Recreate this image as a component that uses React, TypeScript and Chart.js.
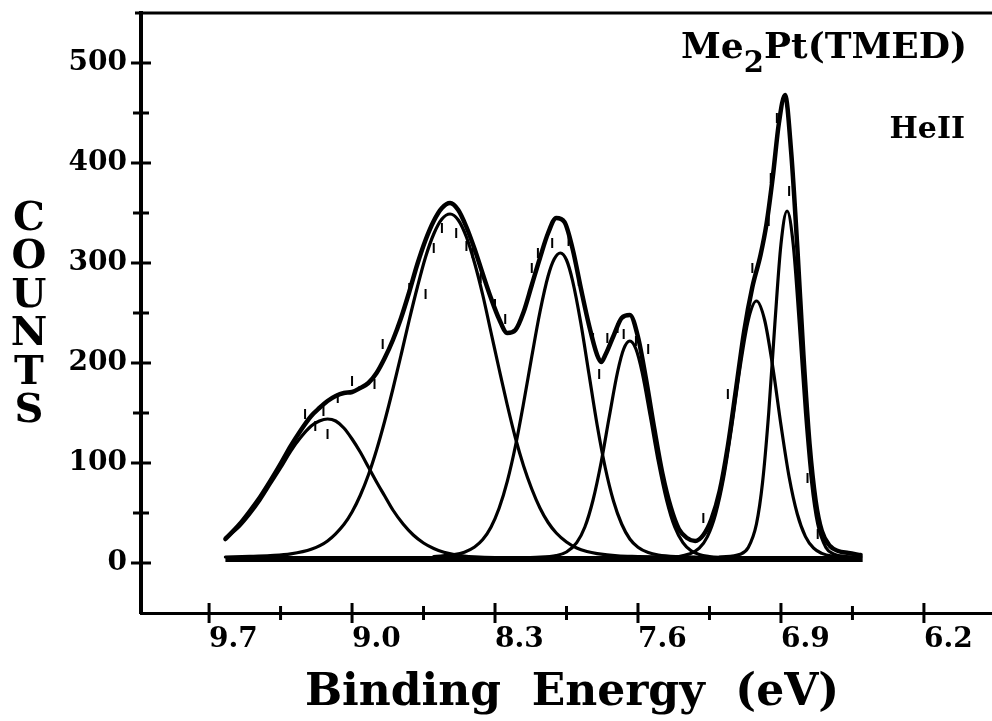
import React, { useEffect, useRef } from 'react';
import { Chart, registerables } from 'chart.js';

Chart.register(...registerables);

// ---- Axis ticks ----
const xTickValues = [9.7, 9.35, 9.0, 8.65, 8.3, 7.95, 7.6, 7.25, 6.9, 6.55, 6.2];
const xTickLabels = ['9.7', '', '9.0', '', '8.3', '', '7.6', '', '6.9', '', '6.2'];
const yTickValues = [0, 50, 100, 150, 200, 250, 300, 350, 400, 450, 500];
const yTickLabels = ['0', '', '100', '', '200', '', '300', '', '400', '', '500'];

// ---- Baseline ----
const baseX = [9.62, 6.5];
const baseY = [4, 4];

// ---- Fitted components ----
const c1X = [9.62, 9.55, 9.5, 9.45, 9.4, 9.35, 9.3, 9.25, 9.2, 9.16, 9.12, 9.08, 9.04, 9.0, 8.96, 8.92, 8.88, 8.84, 8.8, 8.75, 8.7, 8.65, 8.6, 8.55, 8.5, 8.45, 8.4, 8.3, 8.2, 8.0, 7.8, 7.6];
const c1Y = [25, 37, 49, 63, 79, 95, 112, 126, 137, 142, 144, 142, 135, 124, 111, 96, 81, 67, 53, 39, 28, 20, 14.5, 10.8, 8.5, 7, 6.2, 5.3, 5, 4.7, 4.5, 4.3];

const c2X = [9.62, 9.5, 9.4, 9.3, 9.2, 9.12, 9.04, 9.0, 8.96, 8.92, 8.88, 8.84, 8.8, 8.76, 8.72, 8.68, 8.64, 8.6, 8.56, 8.52, 8.48, 8.44, 8.4, 8.36, 8.32, 8.28, 8.24, 8.2, 8.16, 8.12, 8.08, 8.04, 8.0, 7.95, 7.9, 7.85, 7.8, 7.7, 7.6, 7.5, 7.3, 7.0];
const c2Y = [6, 6.6, 7.4, 9.1, 13.7, 22, 38.5, 51, 67.5, 88, 113, 142, 174, 208, 243, 276, 306, 329, 344, 349, 343, 326, 300, 268, 231, 194, 158, 125, 97, 74, 55, 40.5, 30, 21, 15, 11.5, 9.4, 7.1, 6.5, 6.1, 5.5, 5];

const c3X = [8.6, 8.5, 8.45, 8.4, 8.36, 8.32, 8.28, 8.24, 8.2, 8.16, 8.12, 8.08, 8.04, 8.01, 7.98, 7.95, 7.92, 7.88, 7.84, 7.8, 7.76, 7.72, 7.68, 7.64, 7.6, 7.55, 7.5, 7.4, 7.3, 7.1];
const c3Y = [6.4, 8.3, 10.8, 16, 23.4, 35.7, 54.7, 81.6, 117, 160, 206.5, 251, 287, 304, 310, 303, 282, 240, 189, 138, 95, 62, 39, 24, 15.8, 10.4, 8, 6.3, 5.7, 5];

const c4X = [8.2, 8.1, 8.0, 7.95, 7.9, 7.86, 7.82, 7.78, 7.74, 7.7, 7.67, 7.64, 7.61, 7.58, 7.54, 7.5, 7.46, 7.42, 7.38, 7.34, 7.3, 7.25, 7.2, 7.1, 7.0, 6.8];
const c4Y = [5.1, 5.6, 7.4, 11, 20.4, 36, 63, 101, 147, 191, 214, 222, 214, 191, 147, 101, 63, 36, 20.4, 12.2, 8.4, 6.5, 5.7, 5.2, 4.8, 4.5];

const c5X = [7.5, 7.4, 7.35, 7.3, 7.26, 7.22, 7.18, 7.14, 7.1, 7.06, 7.02, 6.98, 6.94, 6.9, 6.86, 6.82, 6.78, 6.74, 6.7, 6.65, 6.6, 6.51];
const c5Y = [5.6, 6.5, 8.9, 14.8, 26.4, 49, 86, 138, 196, 243, 262, 243, 196, 138, 86, 49, 26.4, 14.8, 9.6, 6.8, 6, 5.4];

const c6X = [7.2, 7.1, 7.06, 7.02, 6.99, 6.96, 6.93, 6.9, 6.87, 6.84, 6.81, 6.78, 6.75, 6.72, 6.68, 6.64, 6.58, 6.51];
const c6Y = [5.9, 8.8, 15.6, 39, 80.7, 150, 238.6, 318.6, 352, 318.6, 238.6, 150, 80.7, 39, 15.6, 8.8, 6.5, 5.6];

// ---- Envelope (total fit) ----
const envX = [9.62, 9.55, 9.5, 9.45, 9.4, 9.35, 9.3, 9.25, 9.2, 9.16, 9.12, 9.08, 9.04, 9.0, 8.96, 8.92, 8.88, 8.84, 8.8, 8.76, 8.72, 8.68, 8.64, 8.6, 8.56, 8.52, 8.48, 8.44, 8.4, 8.36, 8.32, 8.28, 8.24, 8.2, 8.16, 8.12, 8.08, 8.04, 8.0, 7.96, 7.92, 7.88, 7.84, 7.8, 7.78, 7.76, 7.72, 7.68, 7.64, 7.6, 7.56, 7.52, 7.48, 7.44, 7.4, 7.36, 7.32, 7.28, 7.24, 7.2, 7.16, 7.12, 7.08, 7.04, 7.0, 6.97, 6.94, 6.91, 6.88, 6.85, 6.82, 6.79, 6.76, 6.73, 6.7, 6.66, 6.62, 6.57, 6.51];
const envY = [24, 39, 52, 66, 82, 99, 117, 133, 147, 155, 162, 167, 170, 171, 175, 180, 190, 205, 223, 245, 271, 299, 323, 342, 355, 360, 353, 336, 314, 289, 265, 244, 230, 233, 251, 278, 305, 330, 345, 341, 314, 275, 238, 208, 201, 208, 227, 245, 248, 226, 183, 134, 89, 56, 34, 25, 22, 28, 44, 72, 117, 174, 232, 276, 308, 340, 386, 440, 468, 411, 316, 208, 119, 62, 32, 17, 12, 10, 8];

// ---- Measured data points ----
const dataX = [9.23, 9.18, 9.14, 9.12, 9.07, 9.0, 8.89, 8.85, 8.72, 8.64, 8.6, 8.56, 8.49, 8.44, 8.41, 8.37, 8.3, 8.25, 8.12, 8.09, 8.02, 7.94, 7.89, 7.82, 7.79, 7.75, 7.7, 7.67, 7.61, 7.55, 7.28, 7.16, 7.04, 6.96, 6.95, 6.92, 6.86, 6.77, 6.72];
const dataY = [149, 137, 152, 129, 165, 182, 179, 219, 275, 269, 315, 335, 330, 317, 310, 285, 259, 244, 295, 310, 320, 322, 282, 225, 189, 225, 235, 229, 222, 214, 45, 169, 295, 342, 385, 445, 372, 85, 29];

const FONT = "'DejaVu Serif', serif";

function pts(xs: number[], ys: number[]) {
  return xs.map((x, i) => ({ x, y: ys[i] }));
}

function curve(label: string, xs: number[], ys: number[], width: number) {
  return {
    type: 'line' as const,
    label,
    data: pts(xs, ys),
    borderColor: '#000',
    borderWidth: width,
    pointRadius: 0,
    fill: false,
    cubicInterpolationMode: 'monotone' as const,
    borderCapStyle: 'round' as const,
    borderJoinStyle: 'round' as const,
  };
}

const framePlugin = {
  id: 'framePlugin',
  afterDraw(chart: any) {
    const ctx = chart.ctx as CanvasRenderingContext2D;
    const { left, top, right, bottom } = chart.chartArea;
    const xs = chart.scales.x;
    const ys = chart.scales.y;
    ctx.save();
    ctx.strokeStyle = '#000';
    ctx.fillStyle = '#000';
    ctx.lineCap = 'butt';
    // top frame
    ctx.lineWidth = 3;
    ctx.beginPath();
    ctx.moveTo(left - 6, top);
    ctx.lineTo(right, top);
    ctx.stroke();
    // x tick marks crossing axis
    xs.ticks.forEach((t: any) => {
      const idx = xTickValues.findIndex((v) => Math.abs(v - t.value) < 1e-6);
      const major = idx >= 0 && xTickLabels[idx] !== '';
      const h = major ? 10 : 7;
      const px = xs.getPixelForValue(t.value);
      ctx.lineWidth = 3;
      ctx.beginPath();
      ctx.moveTo(px, bottom - h);
      ctx.lineTo(px, bottom + h);
      ctx.stroke();
    });
    // y tick marks crossing axis
    ys.ticks.forEach((t: any) => {
      const idx = yTickValues.findIndex((v) => Math.abs(v - t.value) < 1e-6);
      const major = idx >= 0 && yTickLabels[idx] !== '';
      const w = major ? 10 : 8;
      const py = ys.getPixelForValue(t.value);
      ctx.lineWidth = 3;
      ctx.beginPath();
      ctx.moveTo(left - w, py);
      ctx.lineTo(left + w, py);
      ctx.stroke();
    });

    // x-axis title
    ctx.font = `bold 44px ${FONT}`;
    ctx.textAlign = 'center';
    ctx.textBaseline = 'alphabetic';
    ctx.fillText('Binding  Energy  (eV)', 572, 705);

    // y-axis title, stacked letters
    ctx.font = `bold 40px ${FONT}`;
    const letters = ['C', 'O', 'U', 'N', 'T', 'S'];
    letters.forEach((ch, i) => {
      ctx.fillText(ch, 29, 230 + i * 38.4);
    });

    // annotation: Me2Pt(TMED)
    ctx.textAlign = 'left';
    const mainFont = `bold 36px ${FONT}`;
    const subFont = `bold 29px ${FONT}`;
    ctx.font = mainFont;
    const wMe = ctx.measureText('Me').width;
    const wRest = ctx.measureText('Pt(TMED)').width;
    ctx.font = subFont;
    const wSub = ctx.measureText('2').width;
    const startX = 967 - (wMe + wSub + wRest);
    ctx.font = mainFont;
    ctx.fillText('Me', startX, 58);
    ctx.font = subFont;
    ctx.fillText('2', startX + wMe, 72);
    ctx.font = mainFont;
    ctx.fillText('Pt(TMED)', startX + wMe + wSub, 58);

    // annotation: HeII
    ctx.font = `bold 30px ${FONT}`;
    ctx.textAlign = 'right';
    ctx.fillText('HeII', 965, 138);
    ctx.restore();
  },
};

export default function App() {
  const ref = useRef<HTMLCanvasElement | null>(null);

  useEffect(() => {
    if (!ref.current) return;
    const chart = new Chart(ref.current, {
      type: 'line',
      data: {
        datasets: [
          {
            type: 'line',
            label: 'data',
            data: pts(dataX, dataY),
            showLine: false,
            pointStyle: 'line',
            pointRotation: 90,
            pointRadius: 5,
            pointBorderWidth: 2,
            pointBorderColor: '#000',
            pointBackgroundColor: '#000',
            borderColor: '#000',
          } as any,
          curve('envelope', envX, envY, 4.5),
          curve('c1', c1X, c1Y, 3.2),
          curve('c2', c2X, c2Y, 3.2),
          curve('c3', c3X, c3Y, 3.2),
          curve('c4', c4X, c4Y, 3.2),
          curve('c5', c5X, c5Y, 3.2),
          curve('c6', c6X, c6Y, 3.2),
          { ...curve('baseline', baseX, baseY, 6), cubicInterpolationMode: 'default', borderCapStyle: 'butt' } as any,
        ],
      },
      options: {
        animation: false,
        responsive: true,
        maintainAspectRatio: false,
        events: [],
        layout: { autoPadding: false, padding: { top: 13, left: 0, right: 0, bottom: 0 } },
        plugins: { legend: { display: false }, tooltip: { enabled: false } },
        scales: {
          x: {
            type: 'linear',
            reverse: true,
            min: 5.8667,
            max: 10.0333,
            afterBuildTicks: (s: any) => {
              s.ticks = xTickValues.map((v) => ({ value: v }));
            },
            afterFit: (s: any) => {
              s.height = 108;
              s.paddingLeft = 0;
              s.paddingRight = 0;
            },
            grid: { display: false, drawTicks: false },
            border: { display: true, color: '#000', width: 3 },
            ticks: {
              autoSkip: false,
              maxRotation: 0,
              minRotation: 0,
              align: 'start',
              padding: 10,
              color: '#000',
              font: { family: FONT, size: 28, weight: 'bold' },
              callback: (value: any) => {
                const i = xTickValues.findIndex((v) => Math.abs(v - Number(value)) < 1e-6);
                return i >= 0 ? xTickLabels[i] : '';
              },
            },
          },
          y: {
            type: 'linear',
            min: -50,
            max: 550,
            afterBuildTicks: (s: any) => {
              s.ticks = yTickValues.map((v) => ({ value: v }));
            },
            afterFit: (s: any) => {
              s.width = 141;
              s.paddingTop = 0;
              s.paddingBottom = 0;
            },
            grid: { display: false, drawTicks: false },
            border: { display: true, color: '#000', width: 4 },
            ticks: {
              autoSkip: false,
              padding: 14,
              color: '#000',
              font: { family: FONT, size: 28, weight: 'bold' },
              callback: (value: any) => {
                const i = yTickValues.findIndex((v) => Math.abs(v - Number(value)) < 1e-6);
                return i >= 0 ? yTickLabels[i] : '';
              },
            },
          },
        },
      } as any,
      plugins: [framePlugin],
    });
    return () => chart.destroy();
  }, []);

  return (
    <div style={{ position: 'fixed', left: 0, top: 0, width: 992, height: 721, background: '#fff' }}>
      <canvas ref={ref} />
    </div>
  );
}
